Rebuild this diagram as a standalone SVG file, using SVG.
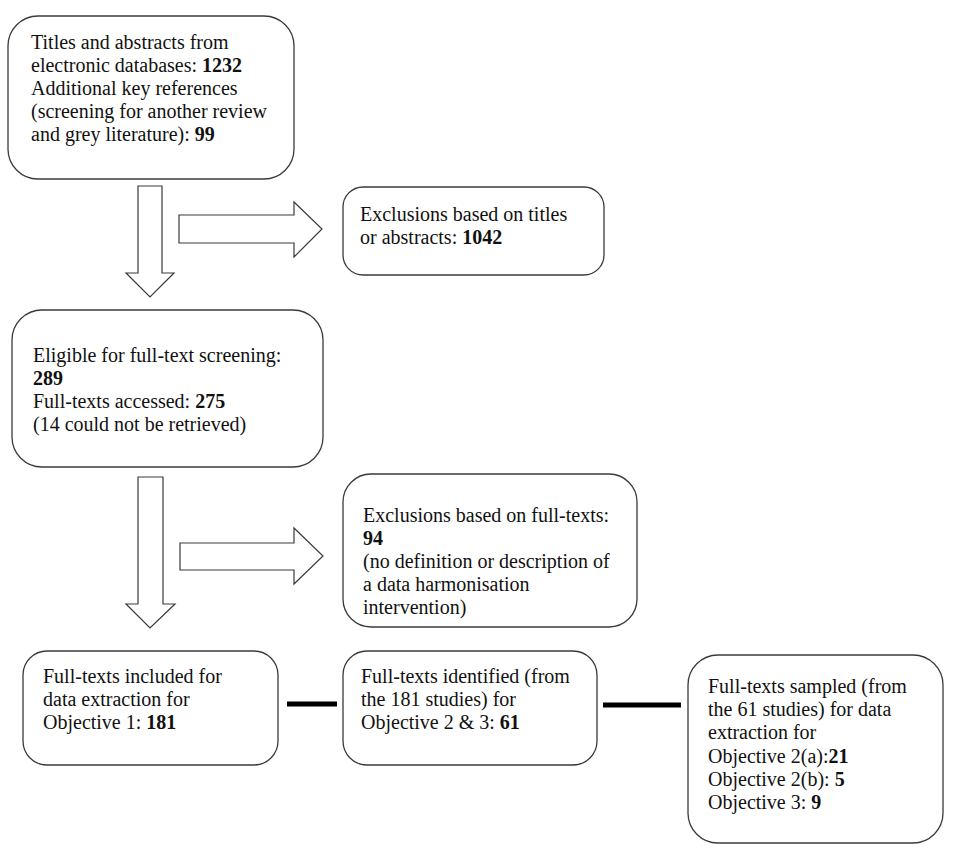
<svg xmlns="http://www.w3.org/2000/svg" width="966" height="854" viewBox="0 0 966 854">
<style>
.box{fill:#fff;stroke:#3a3a3a;stroke-width:1.3}
.arr{fill:#fff;stroke:#3a3a3a;stroke-width:1.2;stroke-linejoin:miter}
.bar{stroke:#000;stroke-width:5}
text{font-family:"Times New Roman","Liberation Serif",Tinos,serif;font-size:20px;fill:#111}
.b{font-weight:bold}
</style>
<rect width="966" height="854" fill="#fff"/>
<g id="connectors">
<polygon class="arr" points="138,186 162,186 162,273 174,273 150,297 126,273 138,273"/>
<polygon class="arr" points="179,215 294,215 294,202 322,229 294,257 294,243 179,243"/>
<polygon class="arr" points="138,477 163,477 163,604 175,604 150,628 126,604 138,604"/>
<polygon class="arr" points="180,543 294,543 294,528 323,556 294,584 294,570 180,570"/>
<line class="bar" x1="287" y1="704" x2="337" y2="704"/>
<line class="bar" x1="603" y1="705" x2="681" y2="705"/>
</g>
<g id="n1">
<rect class="box" x="8" y="16" width="286" height="163" rx="30"/>
<text x="31" y="49">Titles and abstracts from</text>
<text x="31" y="72">electronic databases: <tspan class="b">1232</tspan></text>
<text x="31" y="95">Additional key references</text>
<text x="31" y="118">(screening for another review</text>
<text x="31" y="141">and grey literature): <tspan class="b">99</tspan></text>
</g>
<g id="n2">
<rect class="box" x="343" y="187" width="261" height="88" rx="20"/>
<text x="360" y="221">Exclusions based on titles</text>
<text x="360" y="244">or abstracts: <tspan class="b">1042</tspan></text>
</g>
<g id="n3">
<rect class="box" x="12" y="310" width="311" height="157" rx="30"/>
<text x="33" y="362">Eligible for full-text screening:</text>
<text x="33" y="385" class="b">289</text>
<text x="33" y="408">Full-texts accessed: <tspan class="b">275</tspan></text>
<text x="33" y="431">(14 could not be retrieved)</text>
</g>
<g id="n4">
<rect class="box" x="343" y="474" width="294" height="153" rx="28"/>
<text x="363" y="522">Exclusions based on full-texts:</text>
<text x="363" y="545" class="b">94</text>
<text x="363" y="568">(no definition or description of</text>
<text x="363" y="591">a data harmonisation</text>
<text x="363" y="614">intervention)</text>
</g>
<g id="n5">
<rect class="box" x="23" y="651" width="255" height="114" rx="24"/>
<text x="43" y="683">Full-texts included for</text>
<text x="43" y="706">data extraction for</text>
<text x="43" y="729">Objective 1: <tspan class="b">181</tspan></text>
</g>
<g id="n6">
<rect class="box" x="343" y="651" width="254" height="114" rx="24"/>
<text x="361" y="683">Full-texts identified (from</text>
<text x="361" y="706">the 181 studies) for</text>
<text x="361" y="729">Objective 2 &amp; 3: <tspan class="b">61</tspan></text>
</g>
<g id="n7">
<rect class="box" x="688" y="655" width="255" height="188" rx="30"/>
<text x="708" y="693">Full-texts sampled (from</text>
<text x="708" y="716">the 61 studies) for data</text>
<text x="708" y="739">extraction for</text>
<text x="708" y="763">Objective 2(a):<tspan class="b">21</tspan></text>
<text x="708" y="786">Objective 2(b): <tspan class="b">5</tspan></text>
<text x="708" y="809">Objective 3: <tspan class="b">9</tspan></text>
</g>
</svg>
